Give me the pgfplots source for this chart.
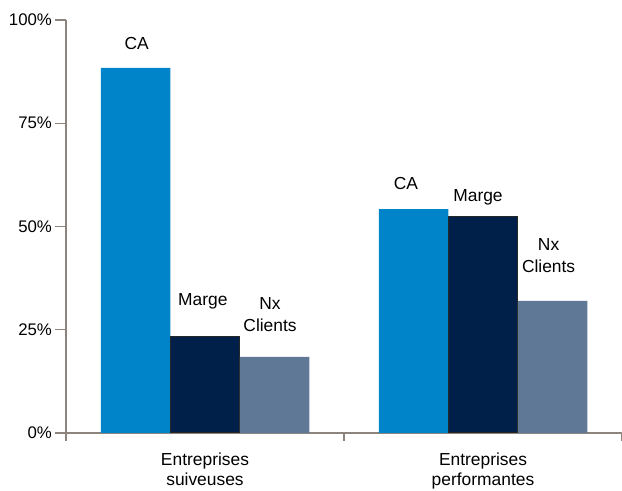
\documentclass[border=0pt]{standalone}
\usepackage{pgfplots}
\pgfplotsset{compat=1.18}
\usepackage{fontspec}
\setmainfont{Liberation Sans}
\definecolor{caC}{HTML}{0084C9}
\definecolor{margeC}{HTML}{00204A}
\definecolor{nxC}{HTML}{5F7896}
\definecolor{axC}{HTML}{8C847D}
\begin{document}
\begin{tikzpicture}
\begin{axis}[
  name=ax,
  scale only axis,
  width=278pt, height=206.5pt,
  xmin=-0.5, xmax=1.5, ymin=0, ymax=100,
  axis x line*=bottom, axis y line*=left,
  axis line style={axC, line width=0.6pt, -},
  tick align=outside,
  ytick={0,25,50,75,100},
  yticklabels={0\%,25\%,50\%,75\%,100\%},
  yticklabel style={xshift=2pt, font=\fontsize{8.4}{10}\selectfont},
  xtick={0,1},
  xticklabels={Entreprises\\suiveuses, Entreprises\\performantes},
  xticklabel style={align=center, yshift=-1pt, font=\fontsize{8.7}{10}\selectfont},
  major x tick style={draw=none},
  minor xtick={-0.5,0.5,1.5},
  minor tick length=4pt,
  major tick length=5.5pt,
  tick style={axC, line width=0.6pt},
  ybar, bar width=0.25,
  clip=false,
]
\addplot[fill=caC, draw=none, bar shift=-0.25] coordinates {(0,88.4) (1,54.2)};
\addplot[fill=margeC, draw=black!85, line width=0.5pt, bar shift=0] coordinates {(0,23.4) (1,52.3)};
\addplot[fill=nxC, draw=none, bar shift=0.25] coordinates {(0,18.4) (1,32.0)};
\begin{scope}[font=\fontsize{8.7}{10.8}\selectfont]
\node[align=center] at (axis cs:-0.246,94.4) {CA};
\node[align=center] at (axis cs:-0.008,31.8) {Marge};
\node[align=center] at (axis cs:0.234,28.6) {Nx\\Clients};
\node[align=center] at (axis cs:0.723,60.5) {CA};
\node[align=center] at (axis cs:0.982,57.1) {Marge};
\node[align=center] at (axis cs:1.236,42.9) {Nx\\Clients};
\end{scope}
\end{axis}
\pgfresetboundingbox
\path[use as bounding box] ([xshift=-33pt, yshift=-29pt]ax.south west) rectangle ([yshift=10pt]ax.north east);
\end{tikzpicture}
\end{document}
